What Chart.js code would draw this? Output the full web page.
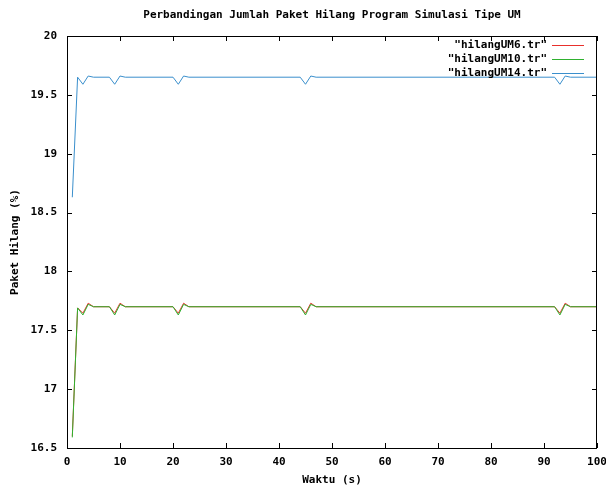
<!DOCTYPE html>
<html>
<head>
<meta charset="utf-8">
<script src="https://cdn.jsdelivr.net/npm/chart.js@4/dist/chart.umd.min.js"></script>
<style>
  body { margin: 0; background: #fff; }
  canvas { display: block; }
</style>
</head>
<body>
<canvas id="chart" width="606" height="489"></canvas>
<script>
// Data
const waktu = [1, 2, 3, 4, 5, 8, 9, 10, 11, 20, 21, 22, 23, 44, 45, 46, 47, 92, 93, 94, 95, 100];
const hilangUM6  = [16.6, 17.69, 17.645, 17.73, 17.7, 17.7, 17.645, 17.73, 17.7, 17.7, 17.645, 17.73, 17.7, 17.7, 17.645, 17.73, 17.7, 17.7, 17.645, 17.73, 17.7, 17.7];
const hilangUM10 = [16.59, 17.69, 17.63, 17.72, 17.7, 17.7, 17.63, 17.72, 17.7, 17.7, 17.63, 17.72, 17.7, 17.7, 17.63, 17.72, 17.7, 17.7, 17.63, 17.72, 17.7, 17.7];
const hilangUM14 = [18.63, 19.65, 19.59, 19.66, 19.65, 19.65, 19.59, 19.66, 19.65, 19.65, 19.59, 19.66, 19.65, 19.65, 19.59, 19.66, 19.65, 19.65, 19.59, 19.66, 19.65, 19.65];
const seriesLabels = ['"hilangUM6.tr"', '"hilangUM10.tr"', '"hilangUM14.tr"'];
const xTicks = [0, 10, 20, 30, 40, 50, 60, 70, 80, 90, 100];
const yTicks = [16.5, 17, 17.5, 18, 18.5, 19, 19.5, 20];

const FONT = 'bold 11px "DejaVu Sans Mono", monospace';
const colors = ['#e8302c', '#2fb12f', '#3a8fcc'];

function points(ys) {
    return waktu.map((x, i) => ({ x: x, y: ys[i] }));
}

// Bingkai, tick ke dalam, judul dan legenda ala gnuplot
const gnuplotFrame = {
    id: 'gnuplotFrame',
    afterDraw(chart) {
        const ctx = chart.ctx;
        const a = chart.chartArea;
        const xs = chart.scales.x, ys = chart.scales.y;
        ctx.save();
        ctx.strokeStyle = '#000';
        ctx.lineWidth = 1;
        ctx.strokeRect(Math.round(a.left) + 0.5, Math.round(a.top) + 0.5,
            Math.round(a.right - a.left) - 1, Math.round(a.bottom - a.top));
        ctx.beginPath();
        xTicks.forEach(v => {
            const px = Math.round(xs.getPixelForValue(v)) + 0.5;
            ctx.moveTo(px, a.bottom); ctx.lineTo(px, a.bottom - 5);
            ctx.moveTo(px, a.top); ctx.lineTo(px, a.top + 5);
        });
        yTicks.forEach(v => {
            const py = Math.round(ys.getPixelForValue(v)) + 0.5;
            ctx.moveTo(a.left, py); ctx.lineTo(a.left + 5, py);
            ctx.moveTo(a.right, py); ctx.lineTo(a.right - 5, py);
        });
        ctx.stroke();

        ctx.fillStyle = '#000';
        ctx.font = FONT;
        ctx.textAlign = 'center';
        ctx.textBaseline = 'middle';
        const cx = (a.left + a.right) / 2;
        ctx.fillText('Perbandingan Jumlah Paket Hilang Program Simulasi Tipe UM', cx, 15);
        ctx.fillText('Waktu (s)', cx, 480);
        ctx.save();
        ctx.translate(15, (a.top + a.bottom) / 2);
        ctx.rotate(-Math.PI / 2);
        ctx.fillText('Paket Hilang (%)', 0, 0);
        ctx.restore();

        // legenda
        ctx.textAlign = 'right';
        seriesLabels.forEach((lbl, i) => {
            const y = 45 + i * 14;
            ctx.fillStyle = '#000';
            ctx.fillText(lbl, 547, y);
            ctx.strokeStyle = colors[i];
            ctx.beginPath();
            ctx.moveTo(552, y + 0.5);
            ctx.lineTo(584, y + 0.5);
            ctx.stroke();
        });
        ctx.restore();
    }
};

const tickFont = { family: '"DejaVu Sans Mono", monospace', size: 11, weight: 'bold' };

new Chart(document.getElementById('chart'), {
    type: 'line',
    data: {
        datasets: [
            { label: seriesLabels[0], data: points(hilangUM6), borderColor: colors[0], order: 3 },
            { label: seriesLabels[1], data: points(hilangUM10), borderColor: colors[1], order: 2 },
            { label: seriesLabels[2], data: points(hilangUM14), borderColor: colors[2], order: 1 }
        ]
    },
    options: {
        responsive: false,
        animation: false,
        devicePixelRatio: 1,
        layout: { padding: { top: 36, right: 9, left: 0, bottom: 0 } },
        elements: {
            point: { radius: 0 },
            line: { borderWidth: 1, tension: 0, fill: false }
        },
        plugins: {
            legend: { display: false },
            tooltip: { enabled: false },
            title: { display: false }
        },
        scales: {
            x: {
                type: 'linear',
                min: 0,
                max: 100,
                afterBuildTicks: s => { s.ticks = xTicks.map(v => ({ value: v })); },
                afterFit: s => { s.height = 41; s.paddingLeft = 0; s.paddingRight = 0; },
                grid: { display: false, drawTicks: false },
                border: { display: false },
                ticks: { font: tickFont, color: '#000', padding: 8, maxRotation: 0, autoSkip: false, callback: v => String(v) }
            },
            y: {
                type: 'linear',
                min: 16.5,
                max: 20,
                afterBuildTicks: s => { s.ticks = yTicks.map(v => ({ value: v })); },
                afterFit: s => { s.width = 67; s.paddingTop = 0; s.paddingBottom = 0; },
                grid: { display: false, drawTicks: false },
                border: { display: false },
                ticks: { font: tickFont, color: '#000', padding: 10, autoSkip: false, callback: v => String(v) }
            }
        }
    },
    plugins: [gnuplotFrame]
});
</script>
</body>
</html>
